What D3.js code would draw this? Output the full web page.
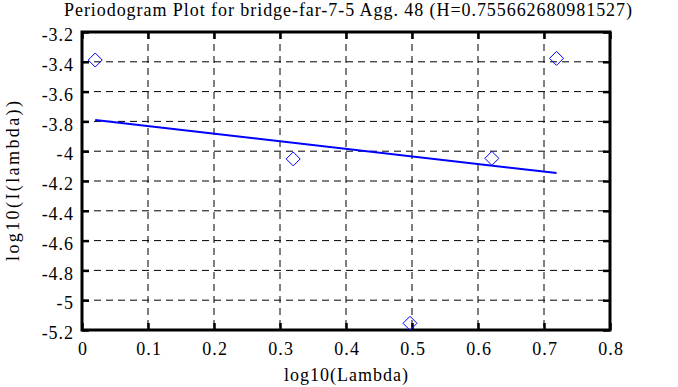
<!DOCTYPE html>
<html>
<head>
<meta charset="utf-8">
<script src="https://cdn.jsdelivr.net/npm/d3@7"></script>
<style>
  body { margin: 0; background: #fff; }
  svg text { font-family: 'Liberation Serif', 'Times New Roman', serif; fill: #000; }
</style>
</head>
<body>
<div id="chart"></div>
<script>
// periodogram points (log10 lambda, log10 I(lambda))
const logLambda = [0.020, 0.320, 0.497, 0.621, 0.719];
const logI = [-3.388, -4.052, -5.155, -4.048, -3.377];

// least squares fit line end points
const fitX = [0.020, 0.719];
const fitY = [-3.790, -4.147];

const xTicks = [0, 0.1, 0.2, 0.3, 0.4, 0.5, 0.6, 0.7, 0.8];
const yTicks = [-3.2, -3.4, -3.6, -3.8, -4, -4.2, -4.4, -4.6, -4.8, -5, -5.2];

const title = 'Periodogram Plot for bridge-far-7-5 Agg. 48 (H=0.755662680981527)';

const W = 678, H = 387;
const margin = { top: 32, right: 68, bottom: 57, left: 82 };

const svg = d3.select('#chart')
  .append('svg')
  .attr('width', W)
  .attr('height', H);

const x = d3.scaleLinear()
  .domain([0, 0.8])
  .range([margin.left, W - margin.right]);

const y = d3.scaleLinear()
  .domain([-5.2, -3.2])
  .range([H - margin.bottom, margin.top]);

const fmt = d => String(+d.toFixed(1));

// the old bitmap font sets wider than Times, so open up the spacing a bit
function widen(sel, k) {
  sel.each(function() {
    const w = this.getComputedTextLength();
    d3.select(this)
      .attr('textLength', w * k)
      .attr('lengthAdjust', 'spacing');
  });
}

// grid lines (dashed), interior only
const grid = svg.append('g').attr('class', 'grid');
grid.selectAll('.gx')
  .data(xTicks.slice(1, -1))
  .enter()
  .append('line')
  .attr('x1', d => x(d))
  .attr('x2', d => x(d))
  .attr('y1', y(-3.2))
  .attr('y2', y(-5.2))
  .attr('stroke', '#000')
  .attr('stroke-dasharray', '7,5');

grid.selectAll('.gy')
  .data(yTicks.slice(1, -1))
  .enter()
  .append('line')
  .attr('x1', x(0))
  .attr('x2', x(0.8))
  .attr('y1', d => y(d))
  .attr('y2', d => y(d))
  .attr('stroke', '#000')
  .attr('stroke-dasharray', '7,5');

// axes, ticks pointing inward
const xAxis = d3.axisBottom(x)
  .tickValues(xTicks)
  .tickFormat(fmt)
  .tickSizeInner(-7)
  .tickSizeOuter(0)
  .tickPadding(12);

const yAxis = d3.axisLeft(y)
  .tickValues(yTicks)
  .tickFormat(fmt)
  .tickSizeInner(-7)
  .tickSizeOuter(0)
  .tickPadding(9);

const gx = svg.append('g')
  .attr('transform', `translate(0,${y(-5.2)})`)
  .call(xAxis);

const gy = svg.append('g')
  .attr('transform', `translate(${x(0)},0)`)
  .call(yAxis);

const gTop = svg.append('g')
  .attr('transform', `translate(0,${y(-3.2)})`)
  .call(d3.axisTop(x).tickValues(xTicks).tickFormat('').tickSizeInner(-7).tickSizeOuter(0));

const gRight = svg.append('g')
  .attr('transform', `translate(${x(0.8)},0)`)
  .call(d3.axisRight(y).tickValues(yTicks).tickFormat('').tickSizeInner(-7).tickSizeOuter(0));

[gx, gy, gTop, gRight].forEach(g => {
  g.select('.domain').remove();
  g.selectAll('.tick line').attr('stroke', '#000').attr('stroke-width', 2.5);
  g.selectAll('.tick text')
    .style('font-family', "'Liberation Serif', serif")
    .style('font-size', '18px');
});
gy.selectAll('.tick text').attr('dy', '0.48em');
widen(gx.selectAll('.tick text'), 1.1);
widen(gy.selectAll('.tick text'), 1.1);

// frame
svg.append('rect')
  .attr('x', x(0))
  .attr('y', y(-3.2))
  .attr('width', x(0.8) - x(0))
  .attr('height', y(-5.2) - y(-3.2))
  .attr('fill', 'none')
  .attr('stroke', '#000')
  .attr('stroke-width', 3);

// fit line
svg.append('line')
  .attr('x1', x(fitX[0]))
  .attr('y1', y(fitY[0]))
  .attr('x2', x(fitX[1]))
  .attr('y2', y(fitY[1]))
  .attr('stroke', '#0000ff')
  .attr('stroke-width', 2);

// diamonds
svg.append('g')
  .selectAll('path')
  .data(logLambda)
  .enter()
  .append('path')
  .attr('transform', (d, i) => `translate(${x(d)},${y(logI[i])})`)
  .attr('d', 'M0,-7L7,0L0,7L-7,0Z')
  .attr('fill', 'none')
  .attr('stroke', '#0000ff')
  .attr('stroke-width', 1);

// labels
svg.append('text')
  .attr('x', 348)
  .attr('y', 16)
  .attr('text-anchor', 'middle')
  .attr('textLength', 568)
  .attr('lengthAdjust', 'spacing')
  .style('font-size', '18px')
  .text(title);

svg.append('text')
  .attr('x', 346)
  .attr('y', 381)
  .attr('text-anchor', 'middle')
  .attr('textLength', 124)
  .attr('lengthAdjust', 'spacing')
  .style('font-size', '18px')
  .text('log10(Lambda)');

svg.append('text')
  .attr('transform', 'translate(19,181) rotate(-90)')
  .attr('text-anchor', 'middle')
  .attr('textLength', 160)
  .attr('lengthAdjust', 'spacing')
  .style('font-size', '18px')
  .text('log10(I(lambda))');
</script>
</body>
</html>
